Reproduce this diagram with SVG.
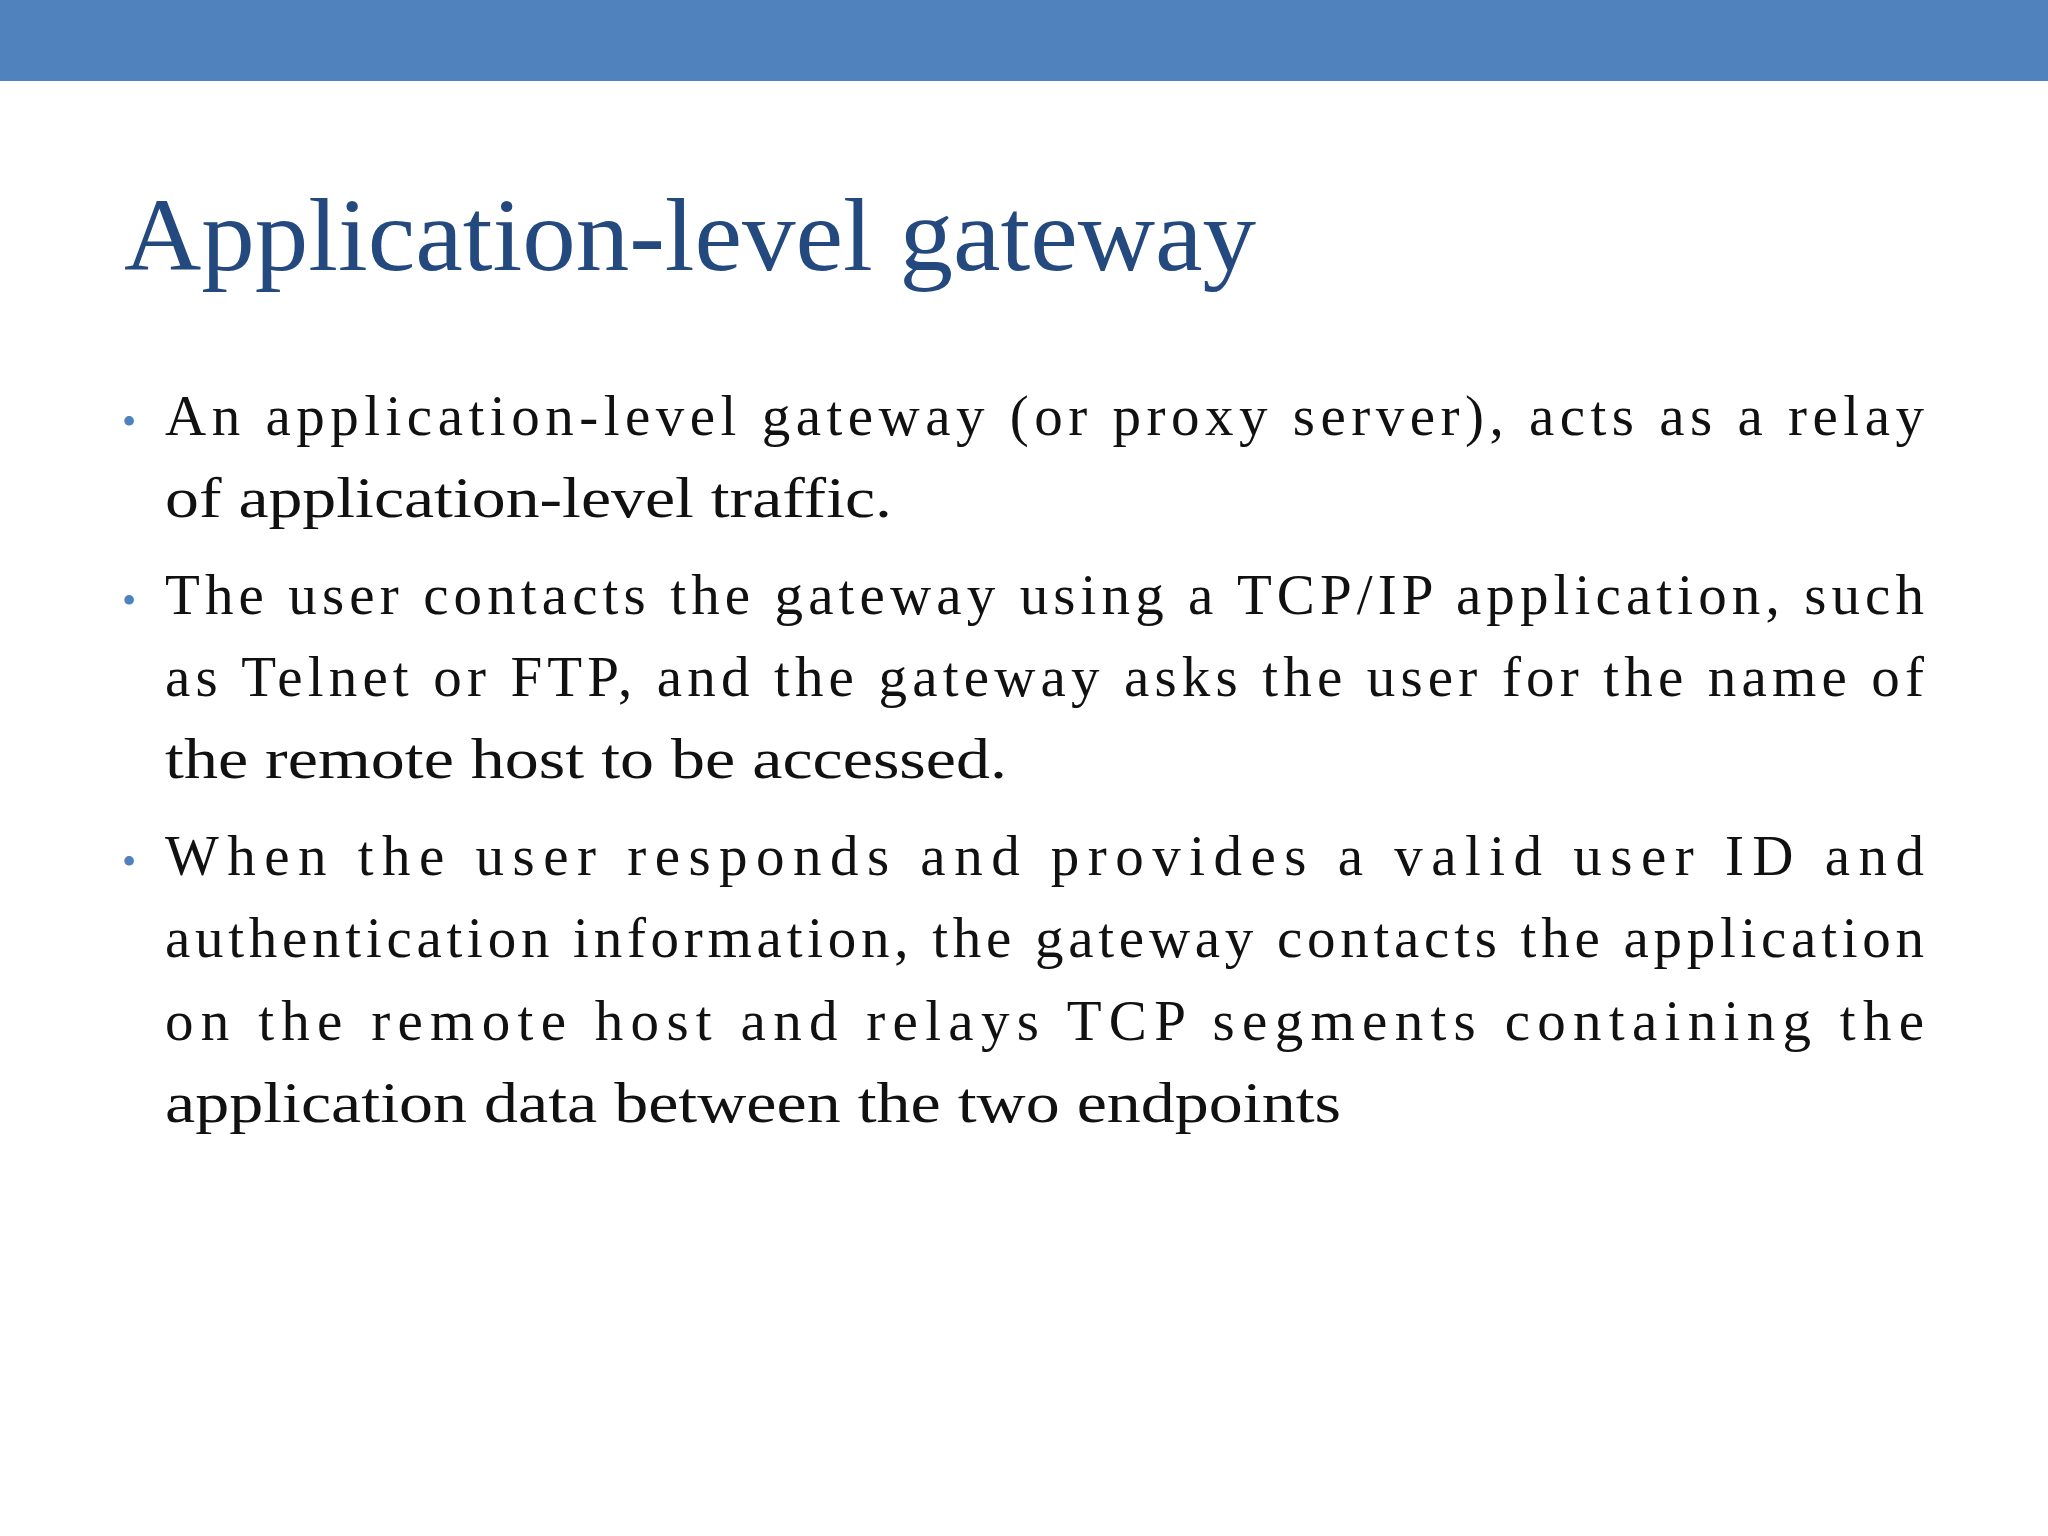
<svg xmlns="http://www.w3.org/2000/svg" width="2048" height="1536" viewBox="0 0 2048 1536">
<style>
.b{font-family:"Liberation Serif","Times New Roman",serif;font-size:57px;fill:#111}
.d{font-family:"Liberation Serif",serif;font-size:40px;fill:#4F81BD}
</style>
<rect width="2048" height="1536" fill="#fff"/>
<rect x="0" y="0" width="2048" height="81" fill="#5083BE"/>
<text x="124" y="270" font-family="Liberation Serif,Times New Roman,serif" font-size="104" fill="#24497F" textLength="1132" lengthAdjust="spacingAndGlyphs">Application-level gateway</text>
<text class="d" x="122" y="435">•</text>
<text class="d" x="122" y="614">•</text>
<text class="d" x="122" y="875">•</text>
<text class="b" x="165" y="435" textLength="1759" lengthAdjust="spacing">An application-level gateway (or proxy server), acts as a relay</text>
<text class="b" x="165" y="517" textLength="727" lengthAdjust="spacingAndGlyphs">of application-level traffic.</text>
<text class="b" x="165" y="614" textLength="1759" lengthAdjust="spacing">The user contacts the gateway using a TCP/IP application, such</text>
<text class="b" x="165" y="696" textLength="1759" lengthAdjust="spacing">as Telnet or FTP, and the gateway asks the user for the name of</text>
<text class="b" x="165" y="778" textLength="842" lengthAdjust="spacingAndGlyphs">the remote host to be accessed.</text>
<text class="b" x="165" y="875" textLength="1759" lengthAdjust="spacing">When the user responds and provides a valid user ID and</text>
<text class="b" x="165" y="957" textLength="1759" lengthAdjust="spacing">authentication information, the gateway contacts the application</text>
<text class="b" x="165" y="1040" textLength="1759" lengthAdjust="spacing">on the remote host and relays TCP segments containing the</text>
<text class="b" x="165" y="1122" textLength="1176" lengthAdjust="spacingAndGlyphs">application data between the two endpoints</text>
</svg>
